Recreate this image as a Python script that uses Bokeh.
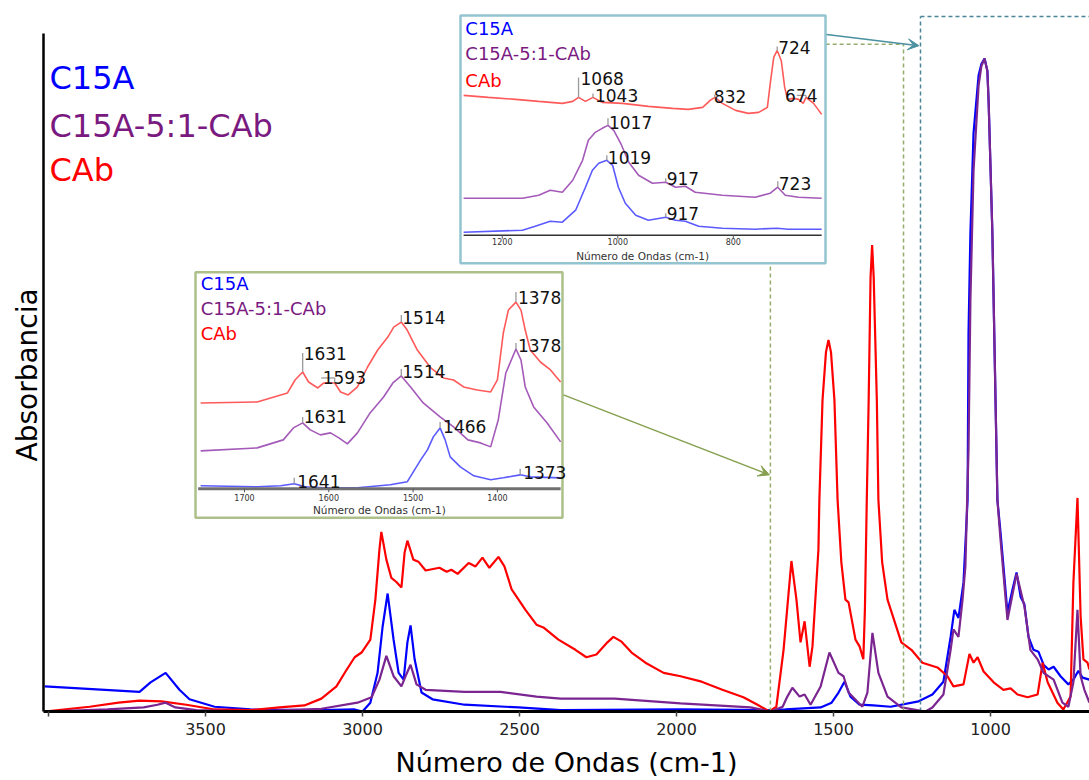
from bokeh.plotting import figure
from bokeh.models import Range1d, FixedTicker, Arrow, VeeHead, ColumnDataSource, Title
from bokeh.embed import file_html
from bokeh.resources import INLINE
from bokeh.core.properties import value

FONT = "DejaVu Sans"

# ---------------- data ----------------
series = ["C15A", "C15A-5:1-CAb", "CAb"]

# main spectra: wavenumber (cm-1) / absorbance (a.u.)
c15a_x = [4012, 3710, 3675, 3627, 3583, 3551, 3471, 3357, 3131, 3025, 3000, 2975, 2952, 2936, 2920, 2901, 2885,
          2869, 2857, 2847, 2834, 2812, 2777, 2675, 2503, 2369, 1987, 1701, 1653, 1541, 1506, 1484, 1465, 1446,
          1417, 1373, 1318, 1229, 1185, 1150, 1127, 1115, 1102, 1086, 1073, 1070, 1064, 1054, 1038, 1029, 1019,
          1010, 1006, 994, 984, 978, 968, 946, 930, 917, 904, 892, 879, 863, 847, 831, 815, 799, 777, 752, 736,
          720, 707, 685]
c15a_y = [0.037, 0.029, 0.043, 0.057, 0.032, 0.018, 0.007, 0.003, 0.002, 0.003, 0.0, 0.013, 0.057, 0.125, 0.174,
          0.106, 0.057, 0.047, 0.102, 0.127, 0.077, 0.028, 0.018, 0.010, 0.006, 0.002, 0.003, 0.002, 0.003, 0.006,
          0.013, 0.028, 0.044, 0.022, 0.010, 0.009, 0.007, 0.015, 0.025, 0.044, 0.110, 0.150, 0.138, 0.190, 0.312,
          0.558, 0.705, 0.853, 0.938, 0.955, 0.963, 0.945, 0.900, 0.705, 0.459, 0.312, 0.264, 0.146, 0.180, 0.205,
          0.169, 0.158, 0.110, 0.091, 0.088, 0.069, 0.062, 0.066, 0.052, 0.040, 0.047, 0.060, 0.050, 0.047]

mix_x = [4012, 3812, 3697, 3653, 3627, 3596, 3529, 3357, 3131, 3016, 2971, 2946, 2924, 2901, 2876, 2863, 2847,
         2828, 2799, 2675, 2561, 2446, 2369, 2197, 1987, 1764, 1701, 1662, 1647, 1631, 1608, 1592, 1573, 1541,
         1513, 1484, 1468, 1452, 1408, 1392, 1376, 1357, 1328, 1284, 1207, 1185, 1150, 1127, 1118, 1102, 1089,
         1080, 1070, 1064, 1054, 1038, 1029, 1019, 1010, 1006, 994, 984, 978, 968, 946, 917, 892, 873, 850, 831,
         799, 771, 752, 736, 723, 713, 701, 685]
mix_y = [0.0, 0.003, 0.006, 0.010, 0.013, 0.006, 0.002, 0.0, 0.004, 0.013, 0.021, 0.047, 0.082, 0.052, 0.037,
         0.052, 0.069, 0.040, 0.032, 0.029, 0.029, 0.022, 0.019, 0.019, 0.012, 0.006, 0.0, 0.007, 0.022, 0.035,
         0.022, 0.025, 0.010, 0.037, 0.087, 0.057, 0.052, 0.028, 0.007, 0.028, 0.116, 0.057, 0.022, 0.006, 0.0,
         0.006, 0.025, 0.091, 0.121, 0.110, 0.165, 0.214, 0.386, 0.607, 0.798, 0.923, 0.952, 0.963, 0.945, 0.900,
         0.705, 0.459, 0.312, 0.253, 0.135, 0.203, 0.155, 0.091, 0.077, 0.057, 0.047, 0.013, 0.007, 0.043, 0.150,
         0.052, 0.032, 0.013]

cab_x = [4013, 3869, 3777, 3710, 3640, 3561, 3471, 3357, 3264, 3185, 3131, 3083, 3054, 3025, 3003, 2975, 2959,
         2946, 2940, 2924, 2908, 2892, 2876, 2866, 2857, 2838, 2822, 2799, 2755, 2732, 2717, 2697, 2662, 2640,
         2618, 2596, 2567, 2548, 2525, 2481, 2446, 2424, 2376, 2322, 2287, 2255, 2220, 2201, 2175, 2143, 2099,
         2041, 1987, 1920, 1854, 1787, 1742, 1704, 1682, 1659, 1643, 1634, 1618, 1605, 1592, 1576, 1567, 1548,
         1545, 1535, 1524, 1516, 1508, 1497, 1487, 1475, 1462, 1452, 1430, 1417, 1405, 1400, 1394, 1388, 1382,
         1377, 1372, 1362, 1357, 1345, 1328, 1284, 1252, 1217, 1169, 1137, 1118, 1086, 1067, 1054, 1041, 1022,
         990, 959, 936, 914, 882, 850, 834, 818, 787, 768, 745, 736, 723, 713, 704, 691, 685]
cab_y = [0.0, 0.007, 0.013, 0.016, 0.015, 0.010, 0.003, 0.002, 0.006, 0.009, 0.019, 0.037, 0.059, 0.080, 0.087,
         0.106, 0.165, 0.239, 0.265, 0.224, 0.197, 0.191, 0.183, 0.234, 0.252, 0.224, 0.221, 0.208, 0.212, 0.206,
         0.209, 0.203, 0.219, 0.214, 0.227, 0.212, 0.228, 0.214, 0.180, 0.150, 0.128, 0.124, 0.106, 0.091, 0.080,
         0.084, 0.102, 0.110, 0.103, 0.087, 0.072, 0.057, 0.052, 0.044, 0.032, 0.021, 0.010, 0.0, 0.007, 0.091,
         0.175, 0.222, 0.165, 0.102, 0.133, 0.066, 0.096, 0.239, 0.312, 0.459, 0.530, 0.548, 0.530, 0.459, 0.312,
         0.220, 0.165, 0.161, 0.106, 0.096, 0.077, 0.150, 0.312, 0.459, 0.640, 0.688, 0.640, 0.459, 0.312, 0.220,
         0.165, 0.102, 0.091, 0.072, 0.065, 0.052, 0.037, 0.040, 0.085, 0.072, 0.080, 0.059, 0.043, 0.032, 0.034,
         0.025, 0.021, 0.025, 0.072, 0.043, 0.013, 0.003, 0.022, 0.190, 0.315, 0.140, 0.077, 0.072, 0.062]

main_ticks = [4000, 3500, 3000, 2500, 2000, 1500, 1000]

# inset 1 (1270-645 cm-1), offset-stacked traces
i1_cab_x = [1267, 1224, 1177, 1137, 1096, 1078, 1068, 1056, 1043, 1027, 992, 947, 905, 878, 853, 840, 832, 819,
            796, 774, 756, 741, 736, 730, 724, 717, 711, 706, 696, 687, 679, 674, 661, 647]
i1_cab_y = [1.40, 1.38, 1.36, 1.34, 1.32, 1.34, 1.38, 1.34, 1.38, 1.33, 1.32, 1.29, 1.27, 1.26, 1.28, 1.35, 1.38,
            1.32, 1.25, 1.22, 1.23, 1.28, 1.52, 1.78, 1.85, 1.75, 1.48, 1.36, 1.37, 1.36, 1.32, 1.38, 1.32, 1.21]
i1_mix_x = [1267, 1165, 1137, 1117, 1096, 1078, 1061, 1051, 1039, 1027, 1017, 1007, 995, 981, 964, 940, 917, 900,
            883, 866, 819, 762, 736, 723, 710, 687, 647]
i1_mix_y = [0.37, 0.37, 0.40, 0.45, 0.43, 0.55, 0.75, 0.95, 1.03, 1.07, 1.10, 1.05, 0.92, 0.73, 0.60, 0.52, 0.53,
            0.48, 0.49, 0.43, 0.40, 0.38, 0.42, 0.48, 0.40, 0.38, 0.37]
i1_c15a_x = [1267, 1165, 1143, 1117, 1096, 1073, 1056, 1044, 1033, 1019, 1009, 999, 987, 969, 947, 917, 900, 883,
             860, 819, 762, 724, 705, 647]
i1_c15a_y = [0.03, 0.05, 0.09, 0.14, 0.13, 0.25, 0.48, 0.65, 0.72, 0.75, 0.70, 0.48, 0.32, 0.20, 0.15, 0.18, 0.15,
             0.14, 0.09, 0.07, 0.06, 0.07, 0.06, 0.06]
i1_ticks = [1200, 1000, 800]
i1_peaks = ["1068", "1043", "832", "724", "674", "1017", "917", "723", "1019", "917"]
i1_peak_x = [1068, 1043, 832, 724, 674, 1017, 917, 723, 1019, 917]
i1_peak_y = [1.38, 1.38, 1.38, 1.85, 1.38, 1.10, 0.53, 0.48, 0.75, 0.18]

# inset 2 (1755-1325 cm-1), offset-stacked traces
i2_cab_x = [1752, 1685, 1649, 1640, 1631, 1624, 1613, 1606, 1593, 1586, 1577, 1566, 1554, 1542, 1530, 1523, 1514,
            1507, 1495, 1479, 1464, 1452, 1440, 1424, 1408, 1400, 1393, 1387, 1378, 1372, 1367, 1361, 1349, 1337,
            1325]
i2_cab_y = [0.86, 0.87, 0.96, 1.09, 1.17, 1.07, 1.01, 1.06, 1.06, 0.97, 0.94, 1.02, 1.22, 1.39, 1.52, 1.62, 1.67,
            1.59, 1.39, 1.21, 1.11, 1.09, 1.02, 0.99, 0.97, 1.09, 1.56, 1.79, 1.87, 1.79, 1.59, 1.39, 1.27, 1.19,
            1.07]
i2_mix_x = [1752, 1685, 1654, 1642, 1631, 1622, 1610, 1598, 1588, 1578, 1566, 1551, 1535, 1524, 1514, 1503, 1488,
            1468, 1452, 1435, 1420, 1408, 1399, 1390, 1378, 1372, 1367, 1357, 1341, 1325]
i2_mix_y = [0.38, 0.41, 0.49, 0.61, 0.66, 0.59, 0.54, 0.56, 0.51, 0.45, 0.56, 0.76, 0.92, 1.06, 1.13, 1.02, 0.86,
            0.72, 0.62, 0.49, 0.46, 0.42, 0.69, 1.16, 1.40, 1.29, 1.02, 0.82, 0.66, 0.47]
i2_c15a_x = [1752, 1685, 1657, 1641, 1628, 1606, 1566, 1527, 1507, 1491, 1483, 1476, 1468, 1462, 1456, 1444, 1428,
             1408, 1393, 1373, 1361, 1325]
i2_c15a_y = [0.03, 0.02, 0.03, 0.05, 0.02, 0.01, 0.01, 0.04, 0.07, 0.29, 0.39, 0.52, 0.61, 0.49, 0.32, 0.22, 0.13,
             0.09, 0.11, 0.14, 0.12, 0.11]
i2_ticks = [1700, 1600, 1500, 1400]
i2_peaks = ["1378", "1514", "1631", "1593", "1378", "1514", "1631", "1466", "1641", "1373"]
i2_peak_x = [1378, 1514, 1631, 1593, 1378, 1514, 1631, 1468, 1641, 1373]
i2_peak_y = [1.87, 1.67, 1.17, 1.06, 1.40, 1.13, 0.66, 0.61, 0.05, 0.14]

# ---------------- layout / style ----------------
W, H = 1089, 780
FL, FR, FT, FB = 43, 1089, 10, 712          # frame edges (px)

BLUE, PURPLE, RED = "#0000ff", "#7a2590", "#ff0000"
LBLUE, LPURPLE, LRED = "#5a5aff", "#a45ab8", "#ff5a5a"
GREEN, TEAL = "#95ad6c", "#4a8595"


def xr(px0, v0, scale):
    return Range1d(v0 + (px0 - FL) / scale, v0 - (FR - px0) / scale)


def yr(py0, scale):
    return Range1d(-(FB - py0) / scale, (py0 - FT) / scale)


p = figure(width=W, height=H, output_backend="svg", toolbar_location=None,
           x_range=xr(48, 4000, 0.314), y_range=yr(712, 679),
           min_border_left=FL, min_border_right=W - FR, min_border_top=FT, min_border_bottom=H - FB)
p.extra_x_ranges = {"i1": xr(617.3, 1000, 0.5775), "i2": xr(244, 1700, 0.843)}
p.extra_y_ranges = {"i1": yr(235, 100), "i2": yr(489, 100)}
p.outline_line_color = None
p.grid.visible = False
p.background_fill_color = "white"
p.border_fill_color = "white"

xa = p.xaxis[0]
xa.ticker = FixedTicker(ticks=main_ticks)
xa.major_label_overrides = {4000: ""}
xa.minor_tick_line_color = None
xa.axis_line_width = 3
xa.axis_line_color = "black"
xa.major_tick_line_color = "#444"
xa.major_tick_line_width = 1.5
xa.major_tick_in = 0
xa.major_tick_out = 5
xa.major_label_standoff = 6
xa.major_label_text_font = FONT
xa.major_label_text_font_size = "16px"
xa.major_label_text_color = "#222"
xa.axis_label = "Número de Ondas (cm-1)"
xa.axis_label_text_font = FONT
xa.axis_label_text_font_size = "27px"
xa.axis_label_text_font_style = "normal"
xa.axis_label_text_color = "black"
xa.axis_label_standoff = 9

ya = p.yaxis[0]
ya.ticker = FixedTicker(ticks=[])
ya.minor_tick_line_color = None
ya.major_tick_line_color = None
ya.axis_line_width = 2.5
ya.axis_line_color = "black"
ya.bounds = (0, 1.0)
ya.axis_label = None

# y-axis title, placed along the drawn (bounded) part of the axis
p.add_layout(Title(text="Absorbancia", align="left", offset=250, text_font=FONT, text_font_size="28px",
                   text_font_style="normal", text_color="black", standoff=0), "left")

# ---- main spectra ----
p.line(c15a_x, c15a_y, line_color=BLUE, line_width=2.2)
p.line(cab_x, cab_y, line_color=RED, line_width=2.2)
p.line(mix_x, mix_y, line_color=PURPLE, line_width=2.2)

# main legend (coloured names)
p.text(x=[3997] * 3, y=[0.934, 0.864, 0.798], text=series, text_color=[BLUE, "#7a1a80", RED],
       text_font=value(FONT), text_font_size="32px", text_baseline="middle", text_align="left")

# ---- zoom-region markers ----
p.segment(x0=[1701, 1277, 1525, 1223, 1223], y0=[0, 0, 0.984, 0, 1.025],
          x1=[1701, 1277, 1277, 1223, 685], y1=[0.661, 0.984, 0.984, 1.025, 1.025],
          line_color=[GREEN, GREEN, GREEN, TEAL, TEAL], line_width=1.5, line_dash="4 3")

# ---- inset boxes ----
p.quad(left=[1272.4], right=[640.3], bottom=[-0.28], top=[2.20], x_range_name="i1", y_range_name="i1",
       fill_color="white", line_color="#93c4d0", line_width=2.5)
p.quad(left=[1758.1], right=[1322.8], bottom=[-0.29], top=[2.17], x_range_name="i2", y_range_name="i2",
       fill_color="white", line_color="#adc08a", line_width=2.5)


def inset(name, traces, ticks, x_lo, x_hi, tick_y, title_y, axis_color, axis_w, leg_x, leg_y,
          peaks, peak_x, peak_y, tops, bases, dx, brackets):
    kw = dict(x_range_name=name, y_range_name=name)
    for xs, ys, c in traces:
        p.line(xs, ys, line_color=c, line_width=1.6, **kw)
    p.line([x_lo, x_hi], [0, 0], line_color=axis_color, line_width=axis_w, **kw)
    p.segment(x0=ticks, y0=[0] * len(ticks), x1=ticks, y1=[-0.035] * len(ticks), line_color="#555",
              line_width=1, **kw)
    p.text(x=ticks, y=[tick_y] * len(ticks), text=[str(t) for t in ticks], text_font=value(FONT),
           text_font_size="8px", text_color="#333", text_align="center", text_baseline="middle", **kw)
    p.text(x=[(x_lo + x_hi) / 2], y=[title_y], text=["Número de Ondas (cm-1)"], text_font=value(FONT),
           text_font_size="10.5px", text_color="#333", text_align="center", text_baseline="middle", **kw)
    p.text(x=[leg_x] * 3, y=leg_y, text=series, text_color=[BLUE, "#7a1a80", RED], text_font=value(FONT),
           text_font_size="18px", text_align="left", text_baseline="middle", **kw)
    # peak markers
    bx0 = [b[0] for b in brackets]
    bx1 = [b[1] for b in brackets]
    by = [b[2] for b in brackets]
    p.segment(x0=peak_x + bx0, y0=peak_y + by, x1=peak_x + bx1, y1=tops + by, line_color="#9a9a9a",
              line_width=1.3, **kw)
    src = ColumnDataSource(dict(x=peak_x, y=bases, t=peaks, dx=dx))
    p.text(x="x", y="y", text="t", x_offset="dx", source=src, text_font=value(FONT), text_font_size="17px",
           text_color="#111", text_align="left", text_baseline="alphabetic", **kw)


inset("i1", [(i1_c15a_x, i1_c15a_y, LBLUE), (i1_mix_x, i1_mix_y, LPURPLE), (i1_cab_x, i1_cab_y, LRED)],
      i1_ticks, 1267, 647, -0.065, -0.205, "#333", 1.5, 1264, [2.065, 1.815, 1.55],
      i1_peaks, i1_peak_x, i1_peak_y,
      [1.58, 1.42, 1.41, 1.89, 1.40, 1.17, 0.57, 0.54, 0.80, 0.22],
      [1.57, 1.40, 1.39, 1.88, 1.40, 1.13, 0.57, 0.52, 0.78, 0.22],
      [2, 2, -1, 1, -21, 1, 1, 1, 1, 1],
      [(674, 690, 1.40)])

inset("i2", [(i2_c15a_x, i2_c15a_y, LBLUE), (i2_mix_x, i2_mix_y, LPURPLE), (i2_cab_x, i2_cab_y, LRED)],
      i2_ticks, 1755, 1325, -0.09, -0.21, "#707070", 3, 1752, [2.06, 1.81, 1.56],
      i2_peaks, i2_peak_x, i2_peak_y,
      [1.97, 1.74, 1.36, 1.11, 1.46, 1.20, 0.72, 0.67, 0.11, 0.20],
      [1.92, 1.72, 1.36, 1.11, 1.44, 1.17, 0.72, 0.62, 0.07, 0.16],
      [2, 1, 1, -12, 2, 1, 1, 3, 3, 3],
      [(1593, 1609, 1.11)])

# ---- arrows from insets to their regions ----
p.add_layout(Arrow(end=VeeHead(size=11, fill_color="#86a050", line_color="#86a050"),
                   x_start=2360, y_start=0.467, x_end=1704, y_end=0.349, line_color="#86a050", line_width=1.5))
p.add_layout(Arrow(end=VeeHead(size=11, fill_color="#4a90a0", line_color="#4a90a0"),
                   x_start=1522, y_start=0.9985, x_end=1228, y_end=0.982, line_color="#4a90a0", line_width=1.5))

open("out.html", "w").write(file_html(p, INLINE))
